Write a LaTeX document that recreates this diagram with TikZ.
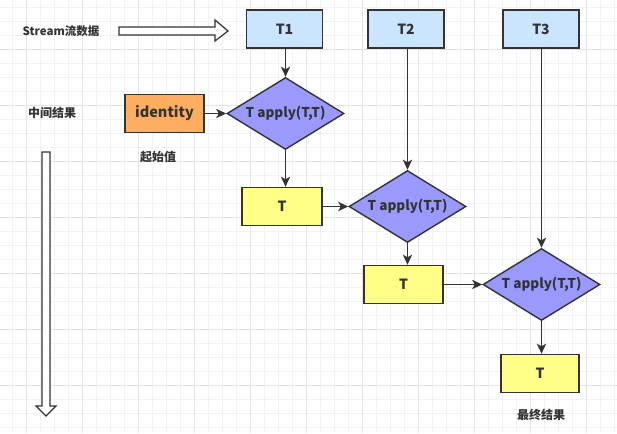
\documentclass[tikz,border=0pt]{standalone}
\usepackage{fontspec}
\setmainfont{Noto Sans CJK SC}
\usetikzlibrary{shapes.geometric,arrows.meta,calc}
\definecolor{boxline}{HTML}{333333}
\definecolor{tblue}{HTML}{CCE5FF}
\definecolor{tpurple}{HTML}{9999FF}
\definecolor{torange}{HTML}{FFAD60}
\definecolor{tyellow}{HTML}{FFFF88}
\definecolor{gridminor}{HTML}{F2F2F2}
\definecolor{gridmajor}{HTML}{E3E3E3}
\tikzset{
  box/.style={draw=boxline, line width=1.4pt, inner sep=0pt, font=\bfseries\fontsize{14}{16}\selectfont, text=boxline},
  bluebox/.style={box, fill=tblue, minimum width=76pt, minimum height=38pt},
  yellowbox/.style={box, fill=tyellow, minimum width=79pt, minimum height=38pt},
  orangebox/.style={box, fill=torange, minimum width=79pt, minimum height=38pt, font=\bfseries\fontsize{14.5}{16}\selectfont},
  dia/.style={draw=boxline, line width=1.4pt, fill=tpurple, shape=diamond, aspect=1.6, inner sep=0pt, minimum width=117pt, minimum height=72pt, font=\bfseries\fontsize{13.5}{15}\selectfont, text=boxline},
  conn/.style={draw=boxline, line width=1.8pt, -{Stealth[length=10pt,width=9pt,inset=2.5pt]}},
  lbl/.style={font=\bfseries\fontsize{12}{14}\selectfont, text=boxline, inner sep=0pt},
  hollow/.style={draw=boxline, line width=1.2pt, fill=white, line join=miter},
}
\begin{document}
\begin{tikzpicture}[x=1pt, y=-1pt]
\useasboundingbox (0,0) rectangle (617,433);
\fill[white] (0,0) rectangle (617,433);
% grid
\foreach \x in {12.3,26.3,...,617} {\draw[gridminor, line width=0.8pt] (\x,0) -- (\x,433);}
\foreach \y in {7.3,21.3,...,433} {\draw[gridminor, line width=0.8pt] (0,\y) -- (617,\y);}
\foreach \x in {26.3,82.3,...,617} {\draw[gridmajor, line width=0.8pt] (\x,0) -- (\x,433);}
\foreach \y in {49.3,105.3,...,433} {\draw[gridmajor, line width=0.8pt] (0,\y) -- (617,\y);}

% labels
\node[lbl, font=\bfseries\fontsize{11.5}{14}\selectfont] (stream) at (61,31) {Stream流数据};
\node[lbl] (mid) at (52,113) {中间结果};
\node[lbl] (init) at (158,157) {起始值};
\node[lbl] (final) at (541,415) {最终结果};

% hollow arrows
\draw[hollow] (119,27) -- (215,27) -- (215,20) -- (228,31) -- (215,41) -- (215,35) -- (119,35) -- cycle;
\draw[hollow] (42,152) -- (50,152) -- (50,406) -- (56,406) -- (46,416) -- (36,406) -- (42,406) -- cycle;

% nodes
\node[bluebox] (t1) at (284.5,29) {T1};
\node[bluebox] (t2) at (406,29) {T2};
\node[bluebox] (t3) at (541,29) {T3};
\node[orangebox] (id) at (164.5,113.5) {identity};
\node[dia] (d1) at (285.5,113.5) {T apply(T,T)};
\node[yellowbox, minimum width=80pt] (y1) at (282,206.5) {T};
\node[dia] (d2) at (407.5,206.5) {T apply(T,T)};
\node[yellowbox] (y2) at (403.5,284.5) {T};
\node[dia] (d3) at (541.5,284.5) {T apply(T,T)};
\node[yellowbox, minimum width=78pt] (y3) at (540,373.5) {T};

% connectors
\draw[conn] (t1.south -| d1.north) -- (d1.north);
\draw[conn] (id.east) -- (d1.west);
\draw[conn] (d1.south) -- (d1.south |- y1.north);
\draw[conn] (y1.east) -- (d2.west);
\draw[conn] (t2.south -| d2.north) -- (d2.north);
\draw[conn] (d2.south) -- (d2.south |- y2.north);
\draw[conn] (y2.east) -- (d3.west);
\draw[conn] (t3.south -| d3.north) -- (d3.north);
\draw[conn] (d3.south) -- (d3.south |- y3.north);
\end{tikzpicture}
\end{document}
